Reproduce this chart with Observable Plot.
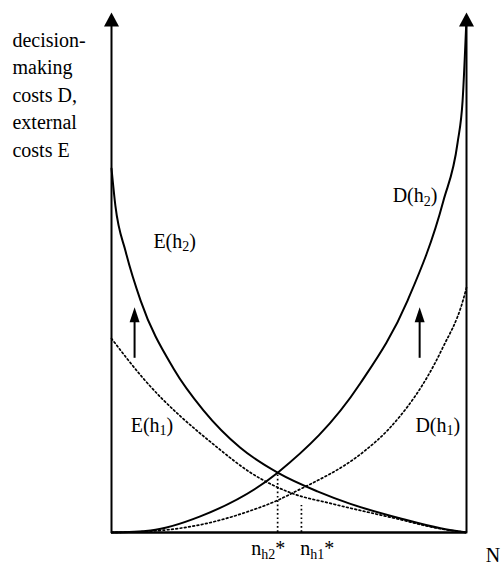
<!DOCTYPE html>
<html><head><meta charset="utf-8">
<script src="https://cdn.jsdelivr.net/npm/d3@7"></script>
<script src="https://cdn.jsdelivr.net/npm/@observablehq/plot@0.6"></script>
<style>body{margin:0;background:#fff}#chart svg{display:block}</style>
</head><body><div id="chart"></div>
<script>
// ---- data (x = share of N from 0 to 1, value = cost, relative) ----
const tE2 = [0, 0.011, 0.04, 0.082, 0.175, 0.259, 0.363, 0.468, 0.58, 0.673, 0.814, 0.927, 1];
const vE2 = [0.70, 0.628, 0.54, 0.446, 0.315, 0.235, 0.163, 0.115, 0.079, 0.055, 0.027, 0.008, 0];
const tD2 = [0, 0.11, 0.25, 0.468, 0.701, 0.834, 0.935, 0.975, 0.989, 1];
const vD2 = [0, 0.004, 0.031, 0.115, 0.287, 0.446, 0.638, 0.75, 0.83, 0.99];
const tE1 = [0, 0.09, 0.299, 0.392, 0.51, 0.617, 0.8, 0.92, 1];
const vE1 = [0.373, 0.296, 0.163, 0.115, 0.075, 0.056, 0.027, 0.008, 0];
const tD1 = [0, 0.138, 0.251, 0.392, 0.468, 0.513, 0.715, 0.777, 0.932, 0.99, 1];
const vD1 = [0, 0.004, 0.015, 0.042, 0.062, 0.077, 0.158, 0.196, 0.354, 0.446, 0.471];

const nStarT = [0.468, 0.535];          // n_h2*, n_h1*
const nStarTop = [0.115, 0.052];

const axisT = [0, 1];
const axisTop = 0.975;
const axisTip = 1.0;

const shiftT = [0.065, 0.868];          // upward shift arrows
const shiftFrom = 0.335, shiftTo = 0.42, shiftTip = 0.433;

const labelMain = ["D(h", "E(h", "E(h", "D(h", "n", "n", "N"];
const labelSub  = ["2", "2", "1", "1", "h2", "h1", ""];
const labelTail = [")", ")", ")", ")", "*", "*", ""];
const labelT    = [0.792, 0.118, 0.054, 0.856, 0.394, 0.532, 1.054];
const labelV    = [0.635, 0.548, 0.194, 0.194, -0.044, -0.044, -0.056];

const yTitle = "decision-\nmaking\ncosts D,\nexternal\ncosts E";
const yTitleT = -0.279, yTitleV = 0.972;

// ---- build tables ----
const rows = (name, ts, vs) => ts.map((t, i) => ({curve: name, t, v: vs[i]}));
const solid = [...rows("E(h2)", tE2, vE2), ...rows("D(h2)", tD2, vD2)];
const dotted = [...rows("E(h1)", tE1, vE1), ...rows("D(h1)", tD1, vD1)];
const nStar = nStarT.map((t, i) => ({t, top: nStarTop[i]}));
const labels = labelMain.map((m, i) => ({full: m + labelSub[i] + labelTail[i], t: labelT[i], v: labelV[i]}));

const bigHead = {draw(c) { c.moveTo(0, 0); c.lineTo(7.5, 14); c.lineTo(-7.5, 14); c.closePath(); }};
const smallHead = {draw(c) { c.moveTo(0, 0); c.lineTo(5, 15); c.lineTo(-5, 15); c.closePath(); }};

const font = "'Liberation Serif', 'Times New Roman', serif";
const dots = {stroke: "black", strokeWidth: 1.7, strokeDasharray: "1.7,2.6"};

const chart = Plot.plot({
  width: 501, height: 566,
  marginLeft: 111, marginRight: 35, marginTop: 12, marginBottom: 34,
  x: {domain: [0, 1], axis: null},
  y: {domain: [0, 1], axis: null},
  style: {fontFamily: font, background: "#fff"},
  marks: [
    Plot.line(dotted, {x: "t", y: "v", z: "curve", curve: "monotone-x", ...dots}),
    Plot.line(solid, {x: "t", y: "v", z: "curve", curve: "monotone-x", stroke: "black", strokeWidth: 2}),
    Plot.ruleX(nStar, {x: "t", y1: 0, y2: "top", ...dots}),
    Plot.ruleX(axisT, {x: d => d, y1: 0, y2: axisTop, stroke: "black", strokeWidth: 2}),
    Plot.dot(axisT, {x: d => d, y: axisTip, symbol: bigHead, fill: "black", stroke: null}),
    Plot.ruleY([0], {x1: 0, x2: 1, stroke: "black", strokeWidth: 2.5}),
    Plot.ruleX(shiftT, {x: d => d, y1: shiftFrom, y2: shiftTo, stroke: "black", strokeWidth: 2}),
    Plot.dot(shiftT, {x: d => d, y: shiftTip, symbol: smallHead, fill: "black", stroke: null}),
    Plot.text(labels, {x: "t", y: "v", text: "full", textAnchor: "start", lineAnchor: "bottom", fontSize: 20, fontFamily: font, fill: "black"}),
    Plot.text([yTitle], {x: yTitleT, y: yTitleV, text: d => d, textAnchor: "start", lineAnchor: "top", lineHeight: 1.38, fontSize: 20, fontFamily: font, fill: "black"})
  ]
});

// subscripts as real tspans
const ns = "http://www.w3.org/2000/svg";
chart.querySelectorAll("text").forEach(el => {
  const i = labels.findIndex((l, k) => l.full === el.textContent && labelSub[k] !== "");
  if (i < 0) return;
  el.textContent = "";
  const a = document.createElementNS(ns, "tspan"); a.textContent = labelMain[i];
  const b = document.createElementNS(ns, "tspan"); b.textContent = labelSub[i];
  b.setAttribute("font-size", "14"); b.setAttribute("dy", "3.5");
  const c = document.createElementNS(ns, "tspan"); c.textContent = labelTail[i];
  c.setAttribute("dy", "-3.5");
  el.append(a, b, c);
});

document.getElementById("chart").append(chart);
</script></body></html>
